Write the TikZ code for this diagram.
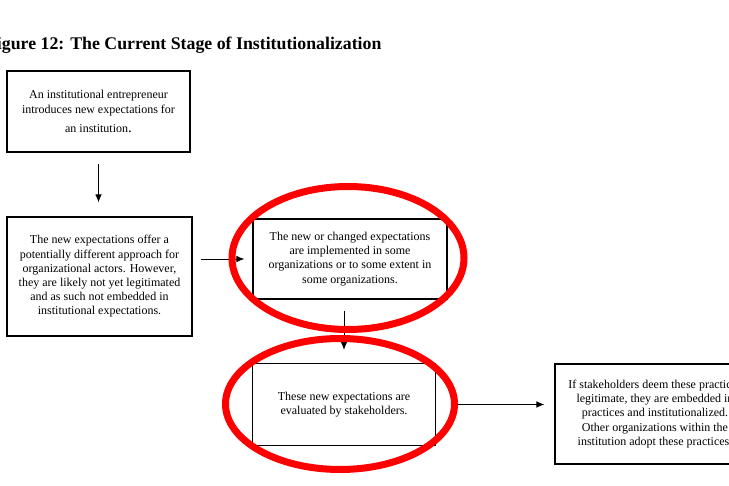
\documentclass[tikz,border=0pt]{standalone}
\usepackage{fontspec}
\setmainfont{Liberation Serif}
\usetikzlibrary{arrows.meta,calc}
\begin{document}
\begin{tikzpicture}[x=1pt,y=-1pt,
  box/.style={draw,line width=1.1pt,fill=white,rectangle,align=center,inner sep=0pt,
    font=\fontsize{12}{14.2}\selectfont},
  conn/.style={line width=0.9pt,-{Latex[length=8pt,width=6.5pt]}},
  redring/.style={draw=red,line width=7pt}]
\useasboundingbox (0,0) rectangle (729,486);
\clip (0,0) rectangle (729,486);
\node[anchor=base east,font=\fontsize{17.8}{20}\bfseries\selectfont] (title) at (385,50) {Figure 12: The Current Stage of Institutionalization};
\node[box,minimum width=183pt,minimum height=81pt] (b1) at (98.5,111.5)
  {An institutional entrepreneur\\introduces new expectations for\\[5pt]an institution{\fontsize{15}{14}\selectfont.}};
\node[box,minimum width=185pt,minimum height=119pt] (b2) at (99.5,276.5)
  {The new expectations offer a\\potentially different approach for\\organizational actors. However,\\they are likely not yet legitimated\\and as such not embedded in\\institutional expectations.};
\node[box,minimum width=194pt,minimum height=80pt] (b3) at (350,259)
  {The new or changed expectations\\are implemented in some\\organizations or to some extent in\\some organizations.};
\node[box,minimum width=183pt,minimum height=82pt] (b4) at (344,404.5)
  {These new expectations are\\evaluated by stakeholders.};
\node[box,minimum width=200pt,minimum height=100pt] (b5) at (655,414)
  {If stakeholders deem these practices\\legitimate, they are embedded in\\practices and institutionalized.\\Other organizations within the\\institution adopt these practices.};
\draw[conn,shorten <=11pt,shorten >=14pt] (b1.south) -- (b1.south |- b2.north);
\draw[conn,shorten <=8pt,shorten >=8pt] (b2.east |- b3.west) -- (b3.west);
\draw[conn,shorten <=11pt,shorten >=13pt] (b3.south -| b4.north) -- (b4.north);
\draw[conn,shorten <=22pt,shorten >=10pt] (b4.east) -- (b4.east -| b5.west);
\draw[redring] (348,258) ellipse [x radius=116, y radius=71.5];
\draw[redring] (340,404) ellipse [x radius=114.5, y radius=65.5];
\end{tikzpicture}
\end{document}
